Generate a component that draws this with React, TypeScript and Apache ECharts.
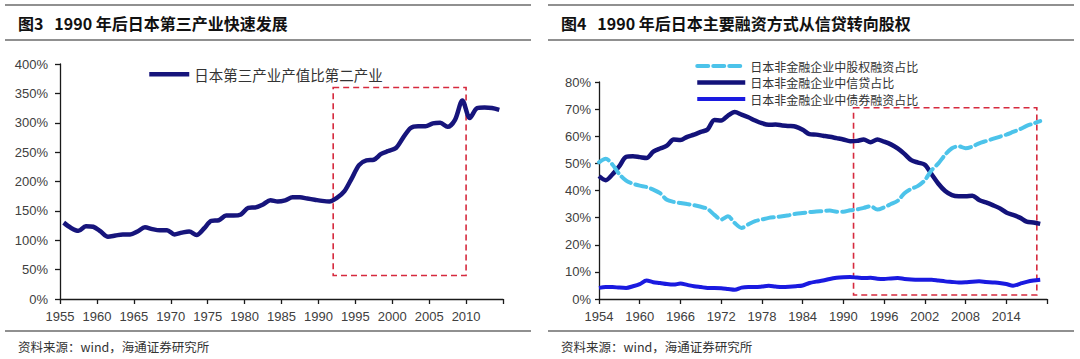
import { useEffect, useRef } from "react";
import * as echarts from "echarts";

// ---------- Figure 3: tertiary / secondary industry output ratio (%) ----------
const leftYears: string[] = [];
for (let y = 1955; y <= 2014; y++) leftYears.push(String(y));
const tertiaryRatio = [
  130, 121, 116, 124, 123, 115, 106, 108, 110, 110,
  115, 122, 119, 117, 117, 110, 113, 115, 109, 120,
  133, 134, 142, 142, 144, 155, 156, 161, 168, 166,
  168, 173, 173, 171, 169, 167, 166, 172, 183, 205,
  228, 236, 237, 247, 252, 257, 275, 291, 294, 294,
  299, 300, 293, 305, 338, 308, 325, 326, 325, 322,
];
const leftBox = { x0: 1992, x1: 2010, y0: 360, y1: 40 };

// ---------- Figure 4: financing structure of non-financial firms (%) ----------
const rightYears: number[] = [];
for (let y = 1954; y <= 2019; y++) rightYears.push(y);
const equityShare = [
  50.4, 51.7, 49.5, 46, 43.6, 42.5, 41.8, 41.3, 40.3, 39,
  36.6, 35.8, 35.4, 35, 34.6, 34, 33.2, 31, 29.3, 30.5,
  28, 26.2, 27.5, 28.7, 29.3, 29.9, 30.2, 30.5, 30.9, 31.4,
  31.7, 32, 32.3, 32.4, 32.6, 32.2, 32.2, 32.7, 33, 33.6,
  34.2, 33, 33.8, 35, 36.2, 39, 40.6, 41.7, 43.8, 47.5,
  50, 53.2, 55.6, 56.3, 55.6, 56.2, 57.4, 58.2, 59, 59.8,
  60.6, 61.6, 62.6, 63.8, 64.7, 65.6,
];
const creditShare = [
  45.3, 43.8, 46, 49, 52.4, 52.6, 52.3, 52, 54.3, 55.5,
  56.5, 58.8, 58.6, 59.8, 60.6, 61.6, 62.5, 66, 65.8, 67.6,
  68.9, 68, 67, 65.8, 64.8, 64.2, 64.3, 64, 63.8, 63.5,
  62.4, 60.8, 60.6, 60.2, 59.8, 59.3, 58.8, 58.2, 58.3, 58.8,
  57.8, 58.8, 58, 57, 55.5, 53.5, 51.2, 50.3, 49.5, 46,
  42.5, 39.8, 38.3, 37.9, 37.9, 38.1, 36.5, 35.6, 34.6, 33.5,
  31.9, 31, 30, 28.5, 28.2, 27.7,
];
const bondShare = [
  4.1, 4.4, 4.4, 4.2, 4.1, 4.7, 5.5, 6.8, 6.2, 5.9,
  5.5, 5.3, 5.7, 5.2, 4.7, 4.4, 4.1, 4.1, 4, 3.7,
  3.4, 4.2, 4.4, 4.4, 4.6, 4.9, 4.6, 4.4, 4.5, 4.7,
  5, 5.9, 6.4, 6.8, 7.4, 7.8, 8, 8.1, 7.9, 7.7,
  7.8, 7.5, 7.4, 7.6, 7.7, 7.4, 7.2, 7.1, 7.1, 7.1,
  6.8, 6.5, 6.3, 6.1, 6.2, 6.4, 6.5, 6.3, 6.1, 5.9,
  5.5, 4.9, 5.6, 6.3, 6.8, 7.1,
];
const rightTickYears = [1954, 1960, 1966, 1972, 1978, 1984, 1990, 1996, 2002, 2008, 2014, 2020];
const rightLabelYears = [1954, 1960, 1966, 1972, 1978, 1984, 1990, 1996, 2002, 2008, 2014];
const rightBox = { x0: 1991.5, x1: 2018.5, y0: 70.5, y1: 1.5 };

const NUM_FONT = "'Liberation Sans', Arial, 'Noto Sans CJK SC', sans-serif";
const CJK_FONT = "'Noto Sans CJK SC', 'Liberation Sans', sans-serif";
const AXIS_COLOR = "#1a1a1a";
const LABEL_COLOR = "#404040";
const RULE_COLOR = "#6b6b6b";
const BOX_COLOR = "#d62a3e";

function rule(x1: number, x2: number, y: number) {
  return {
    type: "line",
    shape: { x1, y1: y, x2, y2: y },
    style: { stroke: RULE_COLOR, lineWidth: 1.5 },
    silent: true,
  };
}

function text(str: string, x: number, y: number, size: number, bold: boolean, color: string) {
  return {
    type: "text",
    x,
    y,
    style: {
      text: str,
      font: `${bold ? "bold " : ""}${size}px ${CJK_FONT}`,
      fill: color,
      textVerticalAlign: "middle",
      verticalAlign: "middle",
    },
    silent: true,
  };
}

export default function App() {
  const ref = useRef<HTMLDivElement>(null);

  useEffect(() => {
    if (!ref.current) return;
    const chart = echarts.init(ref.current, null, { renderer: "svg" });

    const boxStyle = {
      color: "rgba(0,0,0,0)",
      borderColor: BOX_COLOR,
      borderWidth: 1.6,
      borderType: [6, 4] as any,
    };

    const hiddenSymbol = { color: "rgba(0,0,0,0)", borderWidth: 0, borderColor: "rgba(0,0,0,0)" };

    const option: any = {
      animation: false,
      backgroundColor: "#ffffff",
      textStyle: { fontFamily: NUM_FONT },
      graphic: [
        rule(5, 531, 5),
        rule(5, 531, 40),
        rule(5, 531, 331),
        rule(548, 1074, 5),
        rule(548, 1074, 40),
        rule(548, 1074, 331),
        text("图3   1990 年后日本第三产业快速发展", 18, 23, 16, true, "#111111"),
        text("图4   1990 年后日本主要融资方式从信贷转向股权", 561, 23, 16, true, "#111111"),
        text("资料来源：wind，海通证券研究所", 18, 346, 12.5, false, "#333333"),
        text("资料来源：wind，海通证券研究所", 561, 346, 12.5, false, "#333333"),
      ],
      legend: [
        {
          left: 142,
          top: 62,
          itemWidth: 40,
          itemHeight: 14,
          data: ["日本第三产业产值比第二产业"],
          textStyle: { fontSize: 14.5, color: "#333333", fontFamily: CJK_FONT },
          lineStyle: { width: "inherit" },
          itemStyle: hiddenSymbol,
        },
        {
          left: 690,
          top: 54,
          orient: "vertical",
          itemWidth: 48,
          itemHeight: 14,
          itemGap: 2.5,
          data: ["日本非金融企业中股权融资占比", "日本非金融企业中信贷占比", "日本非金融企业中债券融资占比"],
          textStyle: { fontSize: 12, lineHeight: 14, color: "#333333", fontFamily: CJK_FONT },
          lineStyle: { width: "inherit" },
          itemStyle: hiddenSymbol,
        },
      ],
      grid: [
        { left: 60, top: 64, width: 443, height: 235, containLabel: false },
        { left: 599, top: 82, width: 448, height: 217, containLabel: false },
      ],
      xAxis: [
        {
          type: "value",
          gridIndex: 0,
          min: 1955,
          max: 2015,
          interval: 5,
          axisLine: { lineStyle: { color: AXIS_COLOR, width: 1.3 } },
          axisTick: { show: true, inside: false, length: 5, lineStyle: { color: AXIS_COLOR, width: 1.3 } },
          splitLine: { show: false },
          axisLabel: {
            color: LABEL_COLOR,
            fontSize: 13,
            margin: 11,
            fontFamily: NUM_FONT,
            formatter: (v: number) => (v >= 2015 ? "" : String(v)),
          },
        },
        {
          type: "category",
          gridIndex: 0,
          data: leftYears,
          boundaryGap: true,
          show: false,
        },
        {
          type: "value",
          gridIndex: 1,
          min: 1954,
          max: 2020,
          axisLine: { lineStyle: { color: AXIS_COLOR, width: 1.3 } },
          axisTick: {
            show: true,
            length: 5,
            customValues: rightTickYears,
            lineStyle: { color: AXIS_COLOR, width: 1.3 },
          },
          splitLine: { show: false },
          axisLabel: {
            color: LABEL_COLOR,
            fontSize: 13,
            margin: 11,
            fontFamily: NUM_FONT,
            customValues: rightLabelYears,
            formatter: (v: number) => String(v),
          },
        },
      ],
      yAxis: [
        {
          type: "value",
          gridIndex: 0,
          min: 0,
          max: 400,
          interval: 50,
          axisLine: { show: true, lineStyle: { color: AXIS_COLOR, width: 1.3 } },
          axisTick: { show: true, length: 5, lineStyle: { color: AXIS_COLOR, width: 1.3 } },
          splitLine: { show: false },
          axisLabel: {
            color: LABEL_COLOR,
            fontSize: 13,
            margin: 12,
            fontFamily: NUM_FONT,
            formatter: "{value}%",
          },
        },
        {
          type: "value",
          gridIndex: 1,
          min: 0,
          max: 80,
          interval: 10,
          axisLine: { show: true, lineStyle: { color: AXIS_COLOR, width: 1.3 } },
          axisTick: { show: true, length: 4, lineStyle: { color: AXIS_COLOR, width: 1.3 } },
          splitLine: { show: false },
          axisLabel: {
            color: LABEL_COLOR,
            fontSize: 13,
            margin: 8,
            fontFamily: NUM_FONT,
            formatter: "{value}%",
          },
        },
      ],
      series: [
        {
          name: "日本第三产业产值比第二产业",
          type: "line",
          xAxisIndex: 1,
          yAxisIndex: 0,
          data: tertiaryRatio,
          smooth: 0.3,
          symbol: "none",
          lineStyle: { color: "#17157c", width: 4.5 },
          itemStyle: { color: "#17157c" },
        },
        {
          name: "box-left",
          type: "line",
          xAxisIndex: 0,
          yAxisIndex: 0,
          data: [],
          symbol: "none",
          silent: true,
          markArea: {
            silent: true,
            itemStyle: boxStyle,
            data: [[{ coord: [leftBox.x0, leftBox.y0] }, { coord: [leftBox.x1, leftBox.y1] }]],
          },
        },
        {
          name: "日本非金融企业中股权融资占比",
          type: "line",
          xAxisIndex: 2,
          yAxisIndex: 1,
          data: rightYears.map((y, i) => [y, equityShare[i]]),
          smooth: 0.3,
          symbol: "none",
          lineStyle: { color: "#4cc3ea", width: 4, type: [11, 5], cap: "round" },
          itemStyle: { color: "#4cc3ea" },
          z: 3,
        },
        {
          name: "日本非金融企业中信贷占比",
          type: "line",
          xAxisIndex: 2,
          yAxisIndex: 1,
          data: rightYears.map((y, i) => [y, creditShare[i]]),
          smooth: 0.3,
          symbol: "none",
          lineStyle: { color: "#13127a", width: 4.5 },
          itemStyle: { color: "#13127a" },
          z: 2,
        },
        {
          name: "日本非金融企业中债券融资占比",
          type: "line",
          xAxisIndex: 2,
          yAxisIndex: 1,
          data: rightYears.map((y, i) => [y, bondShare[i]]),
          smooth: 0.3,
          symbol: "none",
          lineStyle: { color: "#1a1ae0", width: 4 },
          itemStyle: { color: "#1a1ae0" },
          markArea: {
            silent: true,
            itemStyle: boxStyle,
            data: [[{ coord: [rightBox.x0, rightBox.y0] }, { coord: [rightBox.x1, rightBox.y1] }]],
          },
        },
      ],
    };

    chart.setOption(option);
    return () => chart.dispose();
  }, []);

  return (
    <div
      ref={ref}
      style={{ position: "absolute", left: 0, top: 0, width: 1080, height: 359, background: "#fff" }}
    />
  );
}
